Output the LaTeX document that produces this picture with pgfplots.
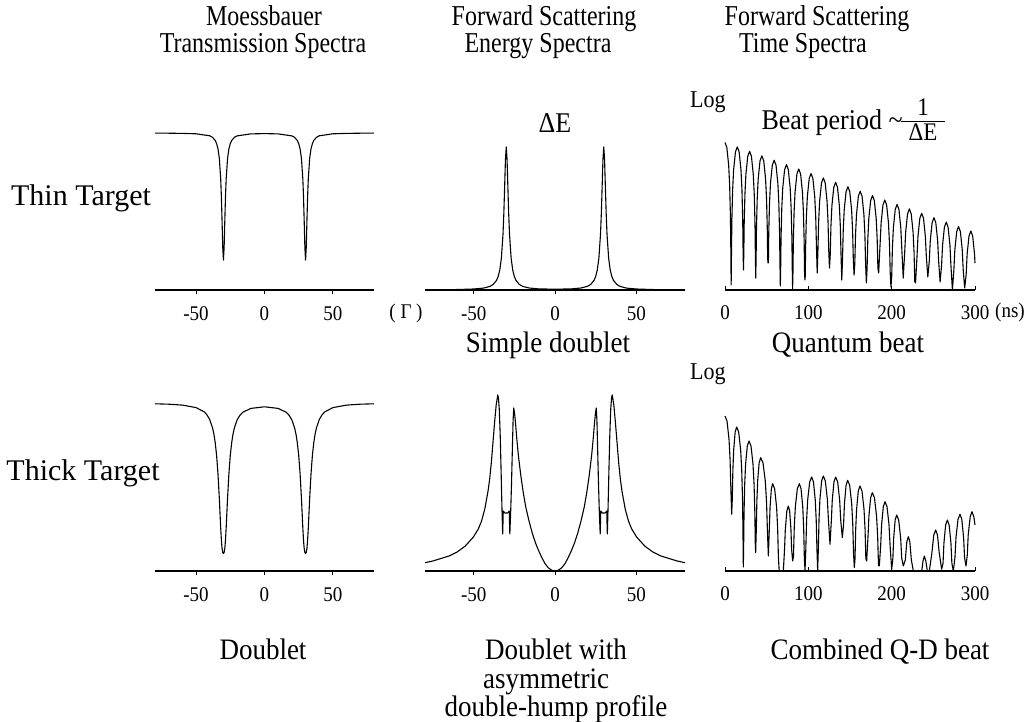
\documentclass[border=0pt]{standalone}
\usepackage{fontspec}
\setmainfont{Liberation Serif}
\usepackage{graphicx}
\usepackage{pgfplots}
\pgfplotsset{compat=1.18}

\newcommand{\tall}[1]{\scalebox{1}[1.1]{#1}}
\newcommand{\head}[1]{\scalebox{1}[1.2]{#1}}

\pgfplotsset{
  panel/.style={
    scale only axis, anchor=south west,
    axis x line=bottom, axis y line=none,
    axis line style={-, line width=1.4pt},
    enlargelimits=false, clip=false,
    ymin=0, ytick=\empty,
    major tick length=4pt,
    every tick/.style={black, line width=1pt},
    tick label style={font=\fontsize{19}{19}\selectfont},
    /pgf/number format/assume math mode=true,
  },
  energy/.style={panel, xmin=-80, xmax=80, xtick={-50,0,50},
    xticklabels={\tall{-50},\tall{0},\tall{50}}, tick align=outside,
    xticklabel shift=9pt},
  time/.style={panel, width=250pt, xmin=0, xmax=300,
    xtick={0,100,200,300}, xticklabels={\tall{0},\tall{100},\tall{200},\tall{300}},
    tick align=inside, xticklabel shift=12pt},
  curve/.style={black, line width=1.1pt, line join=round, mark=none},
}

\begin{document}
\begin{tikzpicture}[x=1pt,y=1pt]
\path[use as bounding box] (0,0) rectangle (1029,721);

% thin target, transmission
\begin{axis}[energy, at={(155pt,431pt)}, width=219pt, height=170pt, ymax=170]
\addplot[curve] coordinates {(-80,156.9) (-70,156.8) (-60,156.6) (-50,156.2)
 (-40,154.2) (-38,152.7) (-36,149.5) (-35,146.4) (-34,141.3) (-33,131.6) (-32,111.3)
 (-31.5,93.4) (-31,69) (-30.5,42.6) (-30,29.9) (-29.5,42.6) (-29,69) (-28.5,93.4)
 (-28,111.2) (-27,131.5) (-26,141.2) (-25,146.4) (-24,149.4) (-22,152.7) (-20,154.1)
 (-10,156.1) (0,156.4) (10,156.1) (20,154.1) (22,152.7) (24,149.4) (25,146.4)
 (26,141.2) (27,131.5) (28,111.2) (28.5,93.4) (29,69) (29.5,42.6) (30,29.9)
 (30.5,42.6) (31,69) (31.5,93.4) (32,111.3) (33,131.6) (34,141.3) (35,146.4)
 (36,149.5) (38,152.7) (40,154.2) (50,156.2) (60,156.6) (70,156.8) (80,156.9)};
\end{axis}

% thin target, energy spectrum
\begin{axis}[energy, at={(425pt,431pt)}, width=260pt, height=170pt, ymax=170]
\addplot[curve] coordinates {(-80,0.18) (-70,0.27) (-60,0.46) (-50,1.0) (-44,1.9)
 (-40,3.6) (-38,5.6) (-36,9.6) (-35,13.4) (-34,19.8) (-33,31.8) (-32,55.9)
 (-31.5,76.2) (-31,102.9) (-30.5,130.4) (-30,143.1) (-29.5,130.4) (-29,102.9)
 (-28.5,76.2) (-28,55.9) (-27,31.8) (-26,19.8) (-25,13.4) (-24,9.6) (-22,5.6)
 (-20,3.7) (-16,2.0) (-10,1.1) (0,0.8) (10,1.1) (16,2.0) (20,3.7) (22,5.6) (24,9.6)
 (25,13.4) (26,19.8) (27,31.8) (28,55.9) (28.5,76.2) (29,102.9) (29.5,130.4)
 (30,143.1) (30.5,130.4) (31,102.9) (31.5,76.2) (32,55.9) (33,31.8) (34,19.8)
 (35,13.4) (36,9.6) (38,5.6) (40,3.6) (44,1.9) (50,1.0) (60,0.46) (70,0.27) (80,0.18)};
\end{axis}

% thin target, time spectrum (log scale, in pt above the axis)
\begin{axis}[time, at={(725pt,431pt)}, height=160pt, ymax=160]
\addplot[curve] coordinates {(0,147.5) (2.21,142.5) (4.43,124.4) (5.61,104.1) (6.49,74.8) (6.93,44.9) (7.38,5)
 (7.82,40.5) (8.26,70.4) (9.14,99.7) (10.32,120) (12.54,138.1) (14.75,143.1) (16.96,138.1) (19.18,120) (20.36,99.7) (21.24,70.4) (21.68,40.5) (22.13,20)
 (22.57,36.1) (23.01,66) (23.89,95.3) (25.07,115.6) (27.29,133.7) (29.5,138.7) (31.71,133.7) (33.93,115.6) (35.11,95.3) (35.99,66) (36.43,36.1) (36.88,12)
 (37.32,31.6) (37.76,61.5) (38.64,90.8) (39.82,111.1) (42.04,129.2) (44.25,134.2) (46.46,129.2) (48.68,111.1) (49.86,90.8) (50.74,61.5) (51.18,31.6) (51.63,27)
 (52.07,27.2) (52.51,57.1) (53.39,86.4) (54.57,106.7) (56.79,124.8) (59,129.8) (61.21,124.8) (63.43,106.7) (64.61,86.4) (65.49,57.1) (65.93,27.2) (66.38,4)
 (66.82,22.8) (67.26,52.7) (68.14,82) (69.32,102.3) (71.54,120.4) (73.75,125.4) (75.96,120.4) (78.18,102.3) (79.36,82) (80.24,52.7) (80.68,22.8) (81.13,1)
 (81.57,18.4) (82.01,48.3) (82.89,77.6) (84.07,97.9) (86.29,116) (88.5,121) (90.71,116) (92.93,97.9) (94.11,77.6) (94.99,48.3) (95.43,18.4) (95.88,10)
 (96.32,13.9) (96.76,43.8) (97.64,73.1) (98.82,93.4) (101.04,111.5) (103.25,116.5) (105.46,111.5) (107.68,93.4) (108.86,73.1) (109.74,43.8) (110.63,17)
 (111.51,39.4) (112.39,68.7) (113.57,89) (115.79,107.1) (118,112.1) (120.21,107.1) (122.43,89) (123.61,68.7) (124.49,39.4) (125.38,22)
 (126.26,35) (127.14,64.3) (128.32,84.6) (130.54,102.7) (132.75,107.7) (134.96,102.7) (137.18,84.6) (138.36,64.3) (139.24,35) (140.13,10)
 (141.01,30.6) (141.89,59.9) (143.07,80.2) (145.29,98.3) (147.5,103.3) (149.71,98.3) (151.93,80.2) (153.11,59.9) (153.99,30.6) (154.88,15)
 (155.76,26.1) (156.64,55.4) (157.82,75.7) (160.04,93.8) (162.25,98.8) (164.46,93.8) (166.68,75.7) (167.86,55.4) (168.74,26.1) (169.63,7)
 (170.51,21.7) (171.39,51) (172.57,71.3) (174.79,89.4) (177,94.4) (179.21,89.4) (181.43,71.3) (182.61,51) (183.49,21.7) (184.38,17)
 (186.14,46.6) (187.32,66.9) (189.54,85) (191.75,90) (193.96,85) (196.18,66.9) (197.36,46.6) (198.24,17.3) (199.13,3)
 (200.01,12.9) (200.89,42.2) (202.07,62.5) (204.29,80.6) (206.5,85.6) (208.71,80.6) (210.93,62.5) (212.11,42.2) (213.88,12)
 (215.64,37.7) (216.82,58) (219.04,76.1) (221.25,81.1) (223.46,76.1) (225.68,58) (226.86,37.7) (227.74,8.4) (228.63,7)
 (230.39,33.3) (231.57,53.6) (233.79,71.7) (236,76.7) (238.21,71.7) (240.43,53.6) (241.61,33.3) (243.38,13)
 (245.14,28.9) (246.32,49.2) (248.54,67.3) (250.75,72.3) (252.96,67.3) (255.18,49.2) (256.36,28.9) (258.13,8)
 (259.89,24.5) (261.07,44.8) (263.29,62.9) (265.5,67.9) (267.71,62.9) (269.93,44.8) (271.11,24.5) (272.88,0)
 (274.64,20) (275.82,40.3) (278.04,58.4) (280.25,63.4) (282.46,58.4) (284.68,40.3) (285.86,20) (287.63,2)
 (289.39,15.6) (290.57,35.9) (292.79,54) (295,59) (297.21,54) (299.43,35.9) (300,27)};
\end{axis}

% thick target, transmission
\begin{axis}[energy, at={(155pt,150pt)}, width=219pt, height=190pt, ymax=190]
\addplot[curve] coordinates {(-80,167.2) (-70,166.8) (-60,165.9) (-50,163.4) (-44,159.1)
 (-42,156.1) (-40,151.4) (-38,143.3) (-37,137.1) (-36,128.3) (-35,115.7) (-34,97.5)
 (-33,72.5) (-32.5,57.8) (-32,43.2) (-31.5,30.8) (-31,22.5) (-30.5,18.5) (-30,17.5)
 (-29.5,18.5) (-29,22.5) (-28.5,30.8) (-28,43.2) (-27.5,57.8) (-27,72.5) (-26,97.4)
 (-25,115.6) (-24,128.1) (-23,136.9) (-22,143.1) (-20,151.1) (-18,155.6) (-16,158.6)
 (-10,162.6) (0,164.2) (10,162.6) (16,158.6) (18,155.6) (20,151.1) (22,143.1)
 (23,136.9) (24,128.1) (25,115.6) (26,97.4) (27,72.5) (27.5,57.8) (28,43.2)
 (28.5,30.8) (29,22.5) (29.5,18.5) (30,17.5) (30.5,18.5) (31,22.5) (31.5,30.8)
 (32,43.2) (32.5,57.8) (33,72.5) (34,97.5) (35,115.7) (36,128.3) (37,137.1)
 (38,143.3) (40,151.4) (42,156.1) (44,159.1) (50,163.4) (60,165.9) (70,166.8) (80,167.2)};
\end{axis}

% thick target, energy spectrum
\begin{axis}[energy, at={(425pt,150pt)}, width=260pt, height=190pt, ymax=190]
\addplot[curve] coordinates {(-80,8.3) (-75.2,10) (-70.2,12.5) (-65.2,15) (-60.2,19)
 (-55.2,25) (-50.2,34) (-47.2,42) (-45.2,50) (-43.2,62) (-41.2,80) (-40.2,92)
 (-39.2,108) (-38.2,128) (-37.2,148) (-36.2,166) (-35.2,176) (-34.8,173) (-34.3,162)
 (-33.7,135) (-33.1,95) (-32.6,60) (-32.2,37) (-31.95,52) (-31.85,60) (-31.4,59)
 (-30.8,58) (-30,58) (-29.2,58) (-28.6,59) (-28.15,60) (-28.05,52) (-27.8,37)
 (-27.3,58) (-26.8,85) (-26.3,118) (-25.8,150) (-25.4,163) (-24.9,158) (-24.3,148)
 (-23.5,132) (-22.5,115) (-21,95) (-19.5,78) (-18,64) (-16,50) (-14,38) (-12,28)
 (-10,20) (-8,13) (-6,7) (-4,3) (-2,0.8) (0,0) (2,0.8) (4,3) (6,7) (8,13) (10,20)
 (12,28) (14,38) (16,50) (18,64) (19.5,78) (21,95) (22.5,115) (23.5,132) (24.3,148)
 (24.9,158) (25.4,163) (25.8,150) (26.3,118) (26.8,85) (27.3,58) (27.8,37) (28.05,52)
 (28.15,60) (28.6,59) (29.2,58) (30,58) (30.8,58) (31.4,59) (31.85,60) (31.95,52)
 (32.2,37) (32.6,60) (33.1,95) (33.7,135) (34.3,162) (34.8,173) (35.2,176) (36.2,166)
 (37.2,148) (38.2,128) (39.2,108) (40.2,92) (41.2,80) (43.2,62) (45.2,50) (47.2,42)
 (50.2,34) (55.2,25) (60.2,19) (65.2,15) (70.2,12.5) (75.2,10) (80,8.3)};
\end{axis}

% thick target, time spectrum
\begin{axis}[time, at={(725pt,150pt)}, height=170pt, ymax=170]
\addplot[curve] coordinates {(0,155) (2.4,150) (4.8,131.9) (6.08,111.6) (7.04,82.3) (8,56.7)
 (8.72,71.3) (9.44,100.6) (10.4,120.9) (12.2,139) (14,144) (16.4,139) (18.8,120.9) (20.08,100.6) (21.04,71.3) (21.52,41.4) (22,4)
 (22.41,27.4) (22.82,57.3) (23.63,86.6) (24.72,106.9) (26.76,125) (28.8,130) (31.2,125) (33.6,106.9) (34.88,86.6) (35.84,57.3) (36.32,27.4) (36.8,18.3)
 (37.52,40.6) (38.24,69.9) (39.2,90.2) (41,108.3) (42.8,113.3) (45.56,108.3) (48.32,90.2) (49.79,69.9) (50.9,40.6) (52,15)
 (53.25,43.9) (54.08,64.2) (55.64,82.3) (57.2,87.3) (59.54,82.3) (61.88,64.2) (63.13,43.9) (64.06,14.6) (65,0) (70,0)
 (71.44,21.6) (72.4,41.9) (74.2,60) (76,65) (77.56,60) (79.12,41.9) (79.95,21.6) (81.2,10)
 (82.16,14.6) (83.12,43.9) (84.4,64.2) (86.8,82.3) (89.2,87.3) (91.24,82.3) (93.28,64.2) (94.37,43.9) (95.18,14.6) (96,0)
 (96.96,21.3) (97.92,50.6) (99.2,70.9) (101.6,89) (104,94) (106.16,89) (108.32,70.9) (109.47,50.6) (110.34,21.3) (111.2,0)
 (112.02,22.3) (112.83,51.6) (113.92,71.9) (115.96,90) (118,95) (120.4,90) (122.8,71.9) (124.08,51.6) (126,26.7)
 (127.63,50.6) (128.72,70.9) (130.76,89) (132.8,94) (135.2,89) (137.6,70.9) (138.88,50.6) (140.8,33.3)
 (142.34,47.3) (143.36,67.6) (145.28,85.7) (147.2,90.7) (149.6,85.7) (152,67.6) (153.28,47.3) (154.24,18) (155.2,3.3)
 (156.02,12.3) (156.83,41.6) (157.92,61.9) (159.96,80) (162,85) (164.4,80) (166.8,61.9) (168.08,41.6) (169.04,12.3) (170,10)
 (171.63,34.9) (172.72,55.2) (174.76,73.3) (176.8,78.3) (179.32,73.3) (181.84,55.2) (183.18,34.9) (184.19,5.6) (185.2,5)
 (186.83,25.9) (187.92,46.2) (189.96,64.3) (192,69.3) (194.4,64.3) (196.8,46.2) (198.08,25.9) (200,1.7)
 (201.44,12.6) (202.4,32.9) (204.2,51) (206,56) (208.4,51) (210.8,32.9) (212.08,12.6) (214,5)
 (216.4,11.2) (218.2,29.3) (220,34.3) (221.8,29.3) (223.6,11.2) (226,0) (234,0)
 (236.08,0) (237.64,10) (239.2,15) (241,10) (242.8,0) (245.2,0)
 (248.24,17.9) (250.52,36) (252.8,41) (254.96,36) (257.12,17.9) (260,1.7)
 (261.63,7.6) (262.72,27.9) (264.76,46) (266.8,51) (268.96,46) (271.12,27.9) (272.27,7.6) (274,0)
 (275.92,13.3) (277.2,33.6) (279.6,51.7) (282,56.7) (284.16,51.7) (286.32,33.6) (287.47,13.3) (289.2,5)
 (290.73,15.9) (291.86,36.2) (294.24,54.3) (296.4,59.3) (298.56,54.3) (300,46)};
\end{axis}

% column titles
\begin{scope}[every node/.style={font=\fontsize{24}{24}\selectfont, anchor=base}]
\node at (264,695) {\head{Moessbauer}};
\node at (263,668) {\head{Transmission Spectra}};
\node at (544,695) {\head{Forward Scattering}};
\node at (538,668) {\head{Energy Spectra}};
\node at (817,695) {\head{Forward Scattering}};
\node at (803,668) {\head{Time Spectra}};
\end{scope}
% captions
\begin{scope}[every node/.style={font=\fontsize{27}{27}\selectfont, anchor=base}]
\node at (548,368) {\tall{Simple doublet}};
\node at (848,368) {\tall{Quantum beat}};
\node at (263,61) {\tall{Doublet}};
\node at (556,61) {\tall{Doublet with}};
\node at (546,33) {\tall{asymmetric}};
\node at (556,5) {\tall{double-hump profile}};
\node at (880,61) {\tall{Combined Q-D beat}};
\end{scope}
\begin{scope}[every node/.style={font=\fontsize{30}{30}\selectfont, anchor=base}]
\node at (81,515) {Thin Target};
\node at (83,240) {Thick Target};
\end{scope}

% annotations
\node[font=\fontsize{26}{26}\selectfont, anchor=base] at (555,588) {\tall{ΔE}};
\node[font=\fontsize{26}{26}\selectfont, anchor=base west] at (758,591) {\tall{Beat period \textasciitilde}};
\draw[line width=0.8pt] (901,600) -- (945,600);
\node[font=\fontsize{23}{23}\selectfont, anchor=base] at (923,605) {\tall{1}};
\node[font=\fontsize{23}{23}\selectfont, anchor=base] at (923,580) {\tall{ΔE}};
\node[font=\fontsize{22}{22}\selectfont, anchor=base west, inner sep=0pt] at (690,613) {\tall{Log}};
\node[font=\fontsize{22}{22}\selectfont, anchor=base west, inner sep=0pt] at (690,341) {\tall{Log}};
\node[font=\fontsize{19}{19}\selectfont, anchor=base] at (406,402) {\tall{( Γ )}};
\node[font=\fontsize{19}{19}\selectfont, anchor=base west, inner sep=0pt] at (995,403) {\tall{(ns)}};
\end{tikzpicture}
\end{document}
